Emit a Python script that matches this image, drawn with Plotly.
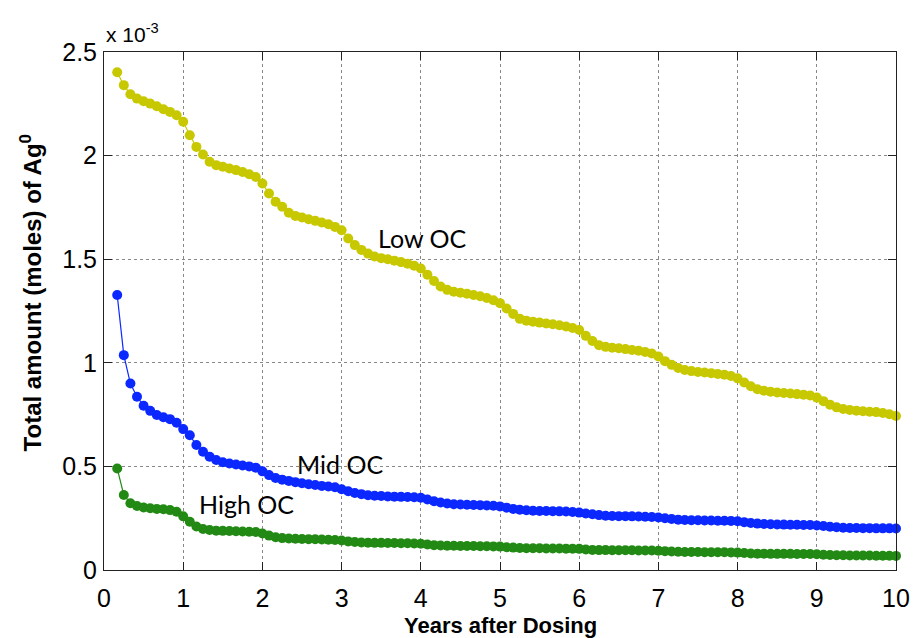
import numpy as np
import plotly.graph_objects as go

# months after dosing (monthly outputs from month 2 to month 120)
months = list(range(2, 121))
years = [m / 12 for m in months]

# Total amount (moles) of Ag0, in units of 1e-3 moles
low_oc = [
    2.402, 2.340, 2.296, 2.275, 2.262, 2.251, 2.238, 2.224, 2.211, 2.195,
    2.163, 2.098, 2.042, 2.005, 1.970, 1.954, 1.946, 1.938, 1.930, 1.921,
    1.910, 1.897, 1.865, 1.817, 1.777, 1.753, 1.724, 1.709, 1.701, 1.693,
    1.685, 1.677, 1.669, 1.656, 1.640, 1.600, 1.568, 1.545, 1.527, 1.513,
    1.505, 1.500, 1.493, 1.486, 1.478, 1.468, 1.455, 1.425, 1.395, 1.368,
    1.352, 1.343, 1.338, 1.333, 1.327, 1.321, 1.313, 1.302, 1.288, 1.262,
    1.236, 1.212, 1.203, 1.198, 1.194, 1.190, 1.186, 1.181, 1.175, 1.168,
    1.158, 1.130, 1.105, 1.085, 1.077, 1.073, 1.070, 1.066, 1.062, 1.058,
    1.052, 1.045, 1.030, 1.008, 0.990, 0.975, 0.965, 0.960, 0.956, 0.953,
    0.950, 0.946, 0.942, 0.936, 0.925, 0.905, 0.887, 0.872, 0.865, 0.860,
    0.857, 0.854, 0.852, 0.849, 0.846, 0.842, 0.832, 0.815, 0.798, 0.785,
    0.777, 0.772, 0.769, 0.766, 0.764, 0.762, 0.758, 0.752, 0.743,
]

mid_oc = [
    1.327, 1.037, 0.900, 0.836, 0.793, 0.768, 0.748, 0.737, 0.728, 0.711,
    0.680, 0.650, 0.603, 0.571, 0.547, 0.531, 0.520, 0.514, 0.509, 0.504,
    0.500, 0.494, 0.476, 0.458, 0.444, 0.436, 0.430, 0.424, 0.419, 0.414,
    0.410, 0.406, 0.403, 0.399, 0.390, 0.380, 0.372, 0.366, 0.361, 0.358,
    0.357, 0.355, 0.354, 0.353, 0.352, 0.351, 0.349, 0.340, 0.332, 0.326,
    0.321, 0.317, 0.316, 0.315, 0.314, 0.313, 0.311, 0.310, 0.307, 0.301,
    0.295, 0.291, 0.288, 0.286, 0.285, 0.285, 0.284, 0.283, 0.282, 0.280,
    0.277, 0.273, 0.269, 0.265, 0.262, 0.261, 0.260, 0.260, 0.259, 0.258,
    0.257, 0.256, 0.253, 0.250, 0.246, 0.243, 0.241, 0.240, 0.240, 0.239,
    0.239, 0.238, 0.238, 0.237, 0.235, 0.231, 0.227, 0.224, 0.222, 0.221,
    0.220, 0.219, 0.218, 0.218, 0.217, 0.217, 0.215, 0.212, 0.209, 0.206,
    0.204, 0.203, 0.203, 0.202, 0.202, 0.201, 0.201, 0.201, 0.200,
]

high_oc = [
    0.490, 0.362, 0.322, 0.309, 0.302, 0.298, 0.295, 0.293, 0.289, 0.281,
    0.259, 0.233, 0.210, 0.198, 0.193, 0.190, 0.189, 0.188, 0.187, 0.186,
    0.185, 0.183, 0.176, 0.166, 0.158, 0.154, 0.152, 0.151, 0.150, 0.149,
    0.148, 0.147, 0.146, 0.145, 0.142, 0.138, 0.135, 0.133, 0.132, 0.131,
    0.131, 0.130, 0.130, 0.129, 0.129, 0.128, 0.127, 0.123, 0.120, 0.118,
    0.117, 0.117, 0.116, 0.116, 0.116, 0.115, 0.115, 0.114, 0.113, 0.110,
    0.108, 0.106, 0.105, 0.105, 0.105, 0.104, 0.104, 0.104, 0.103, 0.103,
    0.102, 0.099, 0.097, 0.096, 0.096, 0.095, 0.095, 0.095, 0.095, 0.094,
    0.094, 0.094, 0.093, 0.091, 0.089, 0.088, 0.087, 0.087, 0.087, 0.086,
    0.086, 0.086, 0.086, 0.085, 0.084, 0.082, 0.080, 0.079, 0.079, 0.078,
    0.078, 0.078, 0.078, 0.077, 0.077, 0.077, 0.076, 0.074, 0.072, 0.071,
    0.071, 0.070, 0.070, 0.070, 0.070, 0.069, 0.069, 0.069, 0.068,
]

x_ticks = list(range(0, 11))
y_ticks = [0, 0.5, 1, 1.5, 2, 2.5]
y_tick_text = ["0", "0.5", "1", "1.5", "2", "2.5"]
scale = 1e-3

series = [
    ("Low OC", low_oc, "#c8c800"),
    ("Mid OC", mid_oc, "#0a28ff"),
    ("High OC", high_oc, "#228a14"),
]

labels = [
    ("Low OC", 4.02, 1.60),
    ("Mid OC", 2.98, 0.511),
    ("High OC", 1.80, 0.318),
]

fig = go.Figure()
for name, vals, col in series:
    fig.add_trace(go.Scatter(
        x=years, y=np.array(vals) * scale, mode="lines+markers", name=name,
        line=dict(color=col, width=1.2),
        marker=dict(color=col, size=10, line=dict(width=0)),
        showlegend=False, cliponaxis=False,
    ))

for txt, lx, ly in labels:
    fig.add_annotation(x=lx, y=ly * scale, text=txt, showarrow=False,
                       font=dict(family="Lato, Noto Sans, sans-serif", size=25, color="black"),
                       xanchor="center", yanchor="middle")

axis_common = dict(
    showline=True, linecolor="#222", linewidth=1, mirror="ticks",
    ticks="inside", ticklen=8, tickcolor="#222", tickwidth=1,
    showgrid=True, gridcolor="#888", griddash="dot", gridwidth=1,
    zeroline=False, automargin=False,
    tickfont=dict(family="Liberation Sans, Arial, sans-serif", size=25, color="black"),
)

fig.update_xaxes(range=[0, 10], tickvals=x_ticks, ticklabelstandoff=6, **axis_common)
fig.update_yaxes(range=[0, 2.5 * scale], tickvals=[v * scale for v in y_ticks],
                 ticktext=y_tick_text, ticklabelstandoff=1, **axis_common)

# axis titles and exponent label
fig.add_annotation(xref="paper", yref="paper", x=0.5, y=0, yshift=-55,
                   text="<b>Years after Dosing</b>", showarrow=False,
                   font=dict(family="Liberation Sans, Arial, sans-serif", size=22, color="black"),
                   xanchor="center", yanchor="middle")
fig.add_annotation(xref="paper", yref="paper", x=0, xshift=-73, y=0.534,
                   text="<b>Total amount (moles) of Ag<sup>0</sup></b>", showarrow=False,
                   textangle=-90,
                   font=dict(family="Liberation Sans, Arial, sans-serif", size=24, color="black"),
                   xanchor="center", yanchor="middle")
fig.add_annotation(xref="paper", yref="paper", x=0, y=1, yshift=4,
                   text="x 10<sup>-3</sup>", showarrow=False,
                   font=dict(family="Liberation Sans, Arial, sans-serif", size=21, color="black"),
                   xanchor="left", yanchor="bottom")

fig.update_layout(
    width=914, height=638,
    margin=dict(l=104, r=18, t=52, b=68),
    plot_bgcolor="white", paper_bgcolor="white",
)

fig.write_html("out.html")
